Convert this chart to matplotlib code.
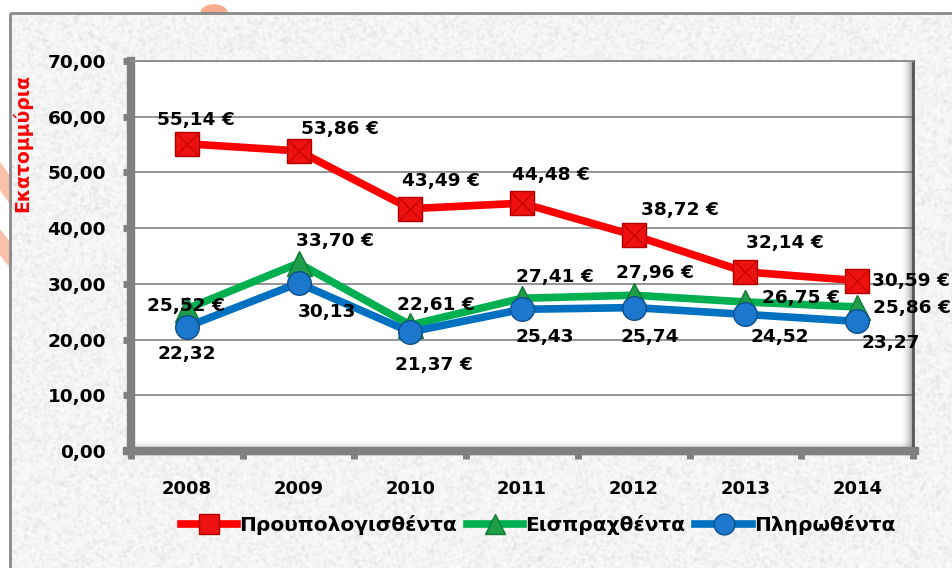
import numpy as np
import matplotlib.pyplot as plt
from matplotlib.patches import Rectangle, Polygon

plt.rcParams['font.family'] = ['DejaVu Sans']

years = ["2008", "2009", "2010", "2011", "2012", "2013", "2014"]
budgeted = [55.14, 53.86, 43.49, 44.48, 38.72, 32.14, 30.59]   # Προυπολογισθέντα
collected = [25.52, 33.70, 22.61, 27.41, 27.96, 26.75, 25.86]  # Εισπραχθέντα
paid = [22.32, 30.13, 21.37, 25.43, 25.74, 24.52, 23.27]       # Πληρωθέντα
paid_labels = ["22,32", "30,13", "21,37 €", "25,43", "25,74", "24,52", "23,27"]
series_names = ["Προυπολογισθέντα", "Εισπραχθέντα", "Πληρωθέντα"]

W, H = 952, 568
fig = plt.figure(figsize=(W / 100, H / 100), dpi=100)

# background: white page, textured grey panel inside a thin grey frame
bg = fig.add_axes([0, 0, 1, 1], zorder=0)
bg.axis('off')
rng = np.random.default_rng(7)
noise = rng.random((H, W))
for _ in range(2):
    noise = (noise + np.roll(noise, 1, 0) + np.roll(noise, -1, 0)
             + np.roll(noise, 1, 1) + np.roll(noise, -1, 1)) / 5
noise = (noise - noise.mean()) / noise.std()
tex = 0.96 - 0.075 * np.clip(noise, 0, 3) / 3 + 0.02 * np.clip(-noise, 0, 2) / 2
bg.imshow(tex, cmap='gray', vmin=0, vmax=1, extent=[10, W + 20, H + 10, 13],
          aspect='auto', zorder=1, interpolation='bilinear')
bg.set_xlim(0, W)
bg.set_ylim(H, 0)

# salmon shapes peeking out around the frame
t = np.linspace(0, np.pi, 30)
bg.add_patch(Polygon(np.column_stack([214 + 13 * np.cos(t), 13 - 8 * np.sin(t)]),
                     color='#f8aa8c', zorder=3))
bg.add_patch(Polygon([(0, 163), (10, 177), (10, 203), (0, 189)], color='#fbc0a9', zorder=3))
bg.add_patch(Polygon([(0, 230), (10, 243), (10, 267), (0, 254)], color='#fbc0a9', zorder=3))
bg.add_patch(Rectangle((10, 13), W + 20, H + 10, fill=False, ec='#8a8a8a', lw=2, zorder=4))
# grey floor slab under the plot
bg.add_patch(Rectangle((123, 447), 795, 7, color='#808080', zorder=4))

ax = fig.add_axes([131 / W, 1 - 451 / H, 782 / W, 390 / H], zorder=2)
x = np.arange(len(years))

ax.plot(x, collected, color='#00b050', lw=5.5, marker='^', ms=18,
        mfc='#1f9e4a', mec='#137a36', mew=1, zorder=3)
ax.plot(x, paid, color='#0070c0', lw=5.5, marker='o', ms=17,
        mfc='#1b78cc', mec='#0d4f8a', mew=1, zorder=4)
ax.plot(x, budgeted, color='#ff0000', lw=5.5, marker='s', ms=17,
        mfc='#ee1111', mec='#b00000', mew=1, zorder=5)
ax.plot(x, budgeted, lw=0, marker='x', ms=16, mec='#c40000', mew=0.8, zorder=6)

# shading along floor and right wall
floor = np.linspace(0, 1, 20)[:, None] * np.ones((1, 2))
shade = np.zeros((20, 2, 4))
shade[..., :3] = 0.55
shade[..., 3] = floor ** 2 * 0.6
ax.imshow(shade, extent=[-0.5, 6.5, 0, 2.2], aspect='auto', origin='upper', zorder=1)
wall = np.zeros((2, 20, 4))
wall[..., :3] = 0.4
wall[..., 3] = np.linspace(0, 1, 20)[None, :] ** 2 * 0.7
ax.imshow(wall, extent=[6.38, 6.5, 0, 70], aspect='auto', zorder=1)

ax.set_xlim(-0.5, 6.5)
ax.set_ylim(0, 70)

# data labels
red_off = [(9, 24), (41, 22), (31, 28), (29, 28), (46, 25), (39, 29), (54, 0)]
green_off = [(-1, 3), (36, 22), (26, 20), (33, 21), (21, 22), (56, 4), (55, -1)]
blue_off = [(0, -27), (28, -29), (24, -33), (23, -28), (16, -29), (34, -23), (34, -22)]
lab_kw = dict(textcoords='offset pixels', ha='center', va='center',
              fontsize=13.3, fontweight='bold', zorder=7, annotation_clip=False)
for i in range(len(years)):
    ax.annotate(f"{budgeted[i]:.2f} €".replace('.', ','), (x[i], budgeted[i]),
                xytext=red_off[i], **lab_kw)
    ax.annotate(f"{collected[i]:.2f} €".replace('.', ','), (x[i], collected[i]),
                xytext=green_off[i], **lab_kw)
    ax.annotate(paid_labels[i], (x[i], paid[i]), xytext=blue_off[i], **lab_kw)

yticks = np.arange(0, 71, 10)
ax.set_yticks(yticks)
ax.set_yticklabels([f"{v:.2f}".replace('.', ',') for v in yticks],
                   fontsize=13.3, fontweight='bold')
ax.set_xticks(x)
ax.set_xticklabels(years, fontsize=13, fontweight='bold')
ax.set_xticks(np.arange(-0.5, 7, 1), minor=True)
ax.tick_params(axis='y', length=6, width=5, color='#808080', pad=12)
ax.tick_params(axis='x', which='major', length=0, pad=21)
ax.tick_params(axis='x', which='minor', length=6, width=5, color='#808080')
ax.grid(axis='y', color='#8c8c8c', lw=1.3, zorder=0)
ax.set_axisbelow(True)

for side in ['left', 'bottom']:
    ax.spines[side].set_color('#808080')
    ax.spines[side].set_linewidth(6)
ax.spines['top'].set_color('#8c8c8c')
ax.spines['top'].set_linewidth(1.3)
ax.spines['right'].set_color('#555555')
ax.spines['right'].set_linewidth(2)

fig.text(22 / W, 1 - 143 / H, 'Εκατομμύρια', rotation=90, color='#ff0000',
         fontsize=13.5, fontweight='bold', ha='center', va='center')

h_red = plt.Line2D([], [], color='#ff0000', lw=5.5, marker='s', ms=14,
                   mfc='#ee1111', mec='#b00000')
h_green = plt.Line2D([], [], color='#00b050', lw=5.5, marker='^', ms=15,
                     mfc='#1f9e4a', mec='#137a36')
h_blue = plt.Line2D([], [], color='#0070c0', lw=5.5, marker='o', ms=15,
                    mfc='#1b78cc', mec='#0d4f8a')
fig.legend([h_red, h_green, h_blue], series_names, loc='center',
           bbox_to_anchor=(538 / W, 1 - 525 / H), ncol=3, frameon=False,
           prop={'size': 14.5, 'weight': 'bold'}, handlelength=2.8,
           handletextpad=0.1, columnspacing=0.5)

fig.savefig('out.png', dpi=100)
